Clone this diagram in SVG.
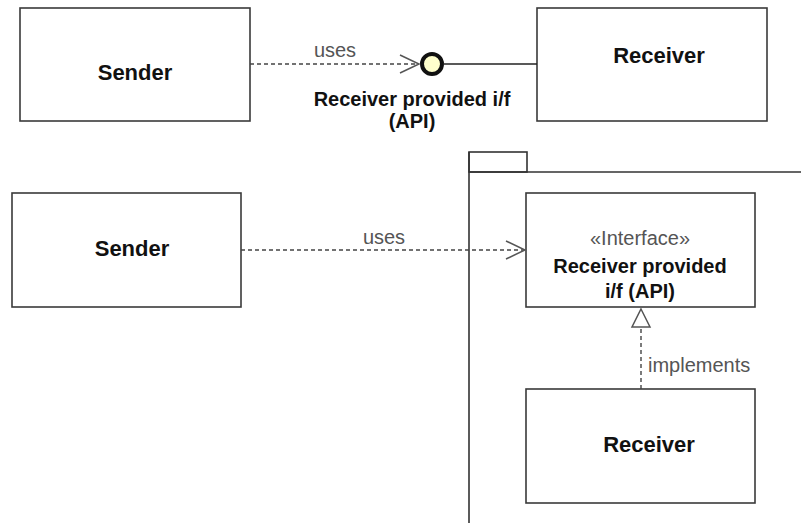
<svg xmlns="http://www.w3.org/2000/svg" width="801" height="523" viewBox="0 0 801 523">
  <style>
    .box { fill: #ffffff; stroke: #3a3a3a; stroke-width: 1.6; }
    .name { font-family: "Liberation Sans", Arial, sans-serif; font-weight: bold; font-size: 22px; fill: #111; text-anchor: middle; }
    .iname { font-family: "Liberation Sans", Arial, sans-serif; font-weight: bold; font-size: 20px; fill: #111; text-anchor: middle; }
    .lbl { font-family: "Liberation Sans", Arial, sans-serif; font-size: 20px; fill: #555; }
    .dash { fill: none; stroke: #444; stroke-width: 1.4; stroke-dasharray: 4 3; }
    .solid { fill: none; stroke: #222; stroke-width: 1.6; }
    .open { fill: none; stroke: #555; stroke-width: 1.5; }
    .pkg { fill: none; stroke: #333; stroke-width: 1.6; }
  </style>
  <rect width="801" height="523" fill="#ffffff"/>

  <!-- package frame holding the interface and its implementation -->
  <g id="package">
    <rect class="pkg" x="469" y="152" width="58" height="20"/>
    <path class="pkg" d="M469 172 H801 M469 152 V523"/>
  </g>

  <!-- lollipop notation -->
  <g id="sender-top">
    <rect class="box" x="20" y="8" width="230" height="113"/>
    <text class="name" x="135" y="80">Sender</text>
  </g>
  <g id="receiver-top">
    <rect class="box" x="537" y="8" width="230" height="113"/>
    <text class="name" x="659" y="63">Receiver</text>
  </g>
  <g id="provided-interface">
    <circle cx="432" cy="64" r="10" fill="#ffffcc" stroke="#111" stroke-width="4"/>
    <text class="iname" x="412" y="106">Receiver provided i/f</text>
    <text class="iname" x="412" y="128">(API)</text>
  </g>

  <!-- class notation -->
  <g id="sender-bottom">
    <rect class="box" x="12" y="193" width="229" height="114"/>
    <text class="name" x="132" y="256">Sender</text>
  </g>
  <g id="interface">
    <rect class="box" x="526" y="193" width="229" height="114"/>
    <text class="lbl" x="640" y="245" text-anchor="middle">«Interface»</text>
    <text class="iname" x="640" y="273">Receiver provided</text>
    <text class="iname" x="640" y="298">i/f (API)</text>
  </g>
  <g id="receiver-bottom">
    <rect class="box" x="526" y="389" width="229" height="114"/>
    <text class="name" x="649" y="452">Receiver</text>
  </g>

  <g id="connectors">
    <!-- uses (top) -->
    <path class="dash" d="M250 64 H418"/>
    <path class="open" d="M400 55 L419 64 L400 73"/>
    <text class="lbl" x="335" y="57" text-anchor="middle">uses</text>
    <!-- assembly to receiver -->
    <path class="solid" d="M443 64 H537"/>
    <!-- uses (bottom) -->
    <path class="dash" d="M241 250 H524"/>
    <path class="open" d="M506 241 L525 250 L506 259"/>
    <text class="lbl" x="384" y="244" text-anchor="middle">uses</text>
    <!-- realization -->
    <path class="dash" d="M641 389 V327"/>
    <path d="M641 309 L650 327 L632 327 Z" fill="#ffffff" stroke="#555" stroke-width="1.5"/>
    <text class="lbl" x="648" y="372">implements</text>
  </g>
</svg>
